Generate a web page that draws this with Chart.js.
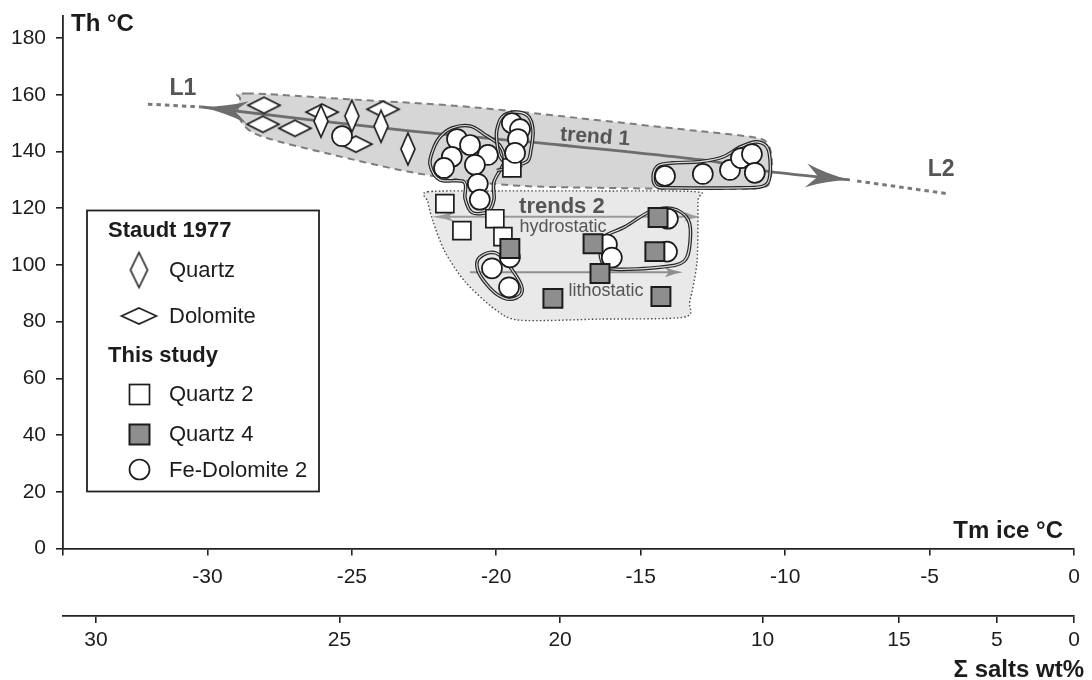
<!DOCTYPE html>
<html>
<head>
<meta charset="utf-8">
<title>Th vs Tm ice</title>
<script src="https://cdn.jsdelivr.net/npm/chart.js@4.4.1/dist/chart.umd.min.js"></script>
<style>
  html, body { margin: 0; padding: 0; background: #ffffff; }
  #wrap { width: 1092px; height: 680px; }
</style>
</head>
<body>
<div id="wrap"><canvas id="c" width="1092" height="680"></canvas></div>
<script>
// ---- Fluid inclusion data: [Tm ice (°C), Th (°C)] ----
const staudtQuartz = [[-26.07,150.7],[-25.0,152.5],[-23.99,148.9],[-23.06,140.9]];
const staudtDolomite = [[-28.04,156.3],[-28.08,149.6],[-26.97,148.2],[-26.03,153.9],[-23.92,154.9],[-24.86,142.6]];
const quartz2 = [[-19.46,134.2],[-21.78,121.6],[-21.19,112.1],[-20.05,116.3],[-19.77,110.0]];
const quartz4 = [[-19.53,105.8],[-16.65,107.5],[-14.4,116.7],[-14.51,104.7],[-16.41,97.0],[-18.04,88.2],[-14.3,88.9]];
const feDolomite2 = [
  [-25.34,145.4],[-21.36,144.4],[-20.91,142.3],[-21.54,138.1],[-20.29,138.8],[-21.81,134.2],[-20.74,135.3],
  [-20.64,128.6],[-20.57,123.0],[-19.46,150.0],[-19.18,147.9],[-19.25,144.4],[-19.35,139.5],
  [-20.15,98.8],[-19.56,92.1],[-19.53,102.7],[-16.17,107.2],[-16.0,102.6],[-14.06,116.3],[-14.09,104.7],
  [-14.16,131.4],[-12.85,132.1],[-11.91,133.5],[-11.53,137.7],[-11.15,139.1],[-11.05,132.5]
];

// ---- Axis ticks ----
const yTicks = [0,20,40,60,80,100,120,140,160,180];
const xTicks = [-35,-30,-25,-20,-15,-10,-5,0];
const xTickLabels = ['','-30','-25','-20','-15','-10','-5','0'];
// salinity scale: positions given as the equivalent Tm ice value
const saltTickPos = [-33.86,-25.43,-17.79,-10.78,-6.06,-2.67,0];
const saltTickLabels = ['30','25','20','10','15','5','0'];

// ---- Interpreted fields, trends and outlines (Tm ice, Th) ----
const trend1Band = [[-28.63,160.5],[-25.07,158.4],[-21.26,156.0],[-17.8,152.5],[-13.64,147.9],[-11.15,145.1],
  [-10.6,142.6],[-10.46,136.3],[-10.53,130.0],[-10.87,127.2],[-12.95,126.8],[-16.41,127.2],[-19.18,127.9],
  [-21.26,130.0],[-23.34,133.5],[-25.76,139.1],[-27.83,144.4],[-28.6,147.9],[-28.94,153.2],[-28.87,158.4]];
const trend2Field = [[-22.37,125.8],[-19.87,126.1],[-16.41,126.1],[-13.09,125.8],[-13.02,122.3],[-13.05,101.2],
  [-13.3,87.2],[-13.5,81.6],[-16.41,80.9],[-19.18,80.5],[-20.05,84.4],[-21.09,94.2],[-21.78,104.7],
  [-22.19,115.3],[-22.37,122.3]];
const trendLine = [[-30.19,155.7],[-23.33,147.6],[-17.79,142.3],[-12.95,137.1],[-10.52,132.9],[-7.76,130.0]];
const l1Extension = [[-32.06,156.7],[-30.19,155.7]];
const l2Extension = [[-7.51,129.6],[-4.36,125.1]];
const hydrostaticArrow = [[-22.23,117.0],[-12.95,117.0]];
const lithostaticArrow = [[-20.91,97.4],[-13.54,97.4]];
const outlineLeft = [[-22.19,140.6],[-21.95,145.1],[-21.53,148.3],[-20.91,149.0],[-20.43,146.2],[-19.87,142.0],
  [-19.73,136.4],[-20.08,129.3],[-20.08,123.0],[-20.29,118.8],[-20.84,118.5],[-21.08,123.4],[-21.12,129.3],
  [-21.95,130.0],[-22.29,135.3]];
const outlineUpper = [[-19.98,147.6],[-19.80,152.2],[-19.35,153.9],[-18.90,152.5],[-18.73,147.6],[-18.80,140.6],
  [-18.94,136.4],[-19.53,135.3],[-19.87,138.1],[-19.98,143.4]];
const outlineLink = [[-19.98,133.3],[-19.1,135.2]];
const outlineRight = [[-14.57,131.1],[-14.40,135.0],[-13.88,136.0],[-12.95,136.4],[-12.15,138.1],[-11.56,141.6],
  [-10.97,143.4],[-10.59,140.9],[-10.52,132.2],[-10.73,127.9],[-11.56,127.2],[-13.88,127.2],[-14.43,127.6]];
const outlinePair = [[-20.63,102.0],[-20.22,104.4],[-19.80,102.7],[-19.18,93.9],[-19.14,89.7],[-19.53,87.9],
  [-19.98,89.7],[-20.36,93.5],[-20.63,97.8]];
const outlineLasso = [[-16.41,105.5],[-16.31,109.7],[-15.54,113.5],[-14.68,118.8],[-13.92,119.9],[-13.36,116.0],
  [-13.29,108.3],[-13.50,101.3],[-14.33,99.2],[-15.89,98.5],[-16.31,100.6]];

// ---- Plot annotations: [text, Tm ice, Th] ----
const annotL1 = ['L1', -30.85, 162.3];
const annotL2 = ['L2', -4.60, 133.6];
const annotTrend1 = ['trend 1', -16.58, 145.1];
const annotTrends2 = ['trends 2', -17.73, 120.6];
const annotHydro = ['hydrostatic', -17.69, 113.5];
const annotLitho = ['lithostatic', -16.20, 90.7];

const FONT = '"Liberation Sans", Arial, Helvetica, sans-serif';
const INK = '#1c1c1c';

function diamondCanvas(w, h, lw) {
  const c = document.createElement('canvas');
  c.width = Math.ceil(w + lw * 2 + 2);
  c.height = Math.ceil(h + lw * 2 + 2);
  const g = c.getContext('2d');
  const cx = c.width / 2, cy = c.height / 2;
  g.beginPath();
  g.moveTo(cx, cy - h / 2);
  g.lineTo(cx + w / 2, cy);
  g.lineTo(cx, cy + h / 2);
  g.lineTo(cx - w / 2, cy);
  g.closePath();
  g.fillStyle = '#ffffff';
  g.fill();
  g.lineWidth = lw;
  g.lineJoin = 'miter';
  g.strokeStyle = INK;
  g.stroke();
  return c;
}
const quartzMark = diamondCanvas(14, 32, 1.7);
const dolomiteMark = diamondCanvas(32, 16, 1.7);
const quartzLegendMark = diamondCanvas(17, 35, 1.6);
const dolomiteLegendMark = diamondCanvas(35, 16, 1.6);

const toXY = arr => arr.map(p => ({ x: p[0], y: p[1] }));

function toPx(chart, pts) {
  const xs = chart.scales.x, ys = chart.scales.y;
  return pts.map(p => [xs.getPixelForValue(p[0]), ys.getPixelForValue(p[1])]);
}

function smoothPath(ctx, P, closed, t) {
  const n = P.length;
  const get = i => closed ? P[(i + n) % n] : P[Math.max(0, Math.min(n - 1, i))];
  ctx.moveTo(P[0][0], P[0][1]);
  const segs = closed ? n : n - 1;
  for (let i = 0; i < segs; i++) {
    const p0 = get(i - 1), p1 = get(i), p2 = get(i + 1), p3 = get(i + 2);
    ctx.bezierCurveTo(
      p1[0] + (p2[0] - p0[0]) * t / 6, p1[1] + (p2[1] - p0[1]) * t / 6,
      p2[0] - (p3[0] - p1[0]) * t / 6, p2[1] - (p3[1] - p1[1]) * t / 6,
      p2[0], p2[1]);
  }
  if (closed) ctx.closePath();
}

function arrowHead(ctx, tip, from, len, half, notch, color) {
  const dx = tip[0] - from[0], dy = tip[1] - from[1];
  const d = Math.hypot(dx, dy);
  const ux = dx / d, uy = dy / d, nx = -uy, ny = ux;
  const bx = tip[0] - ux * len, by = tip[1] - uy * len;
  const mx = tip[0] - ux * len * 0.55, my = tip[1] - uy * len * 0.55;
  ctx.beginPath();
  ctx.moveTo(tip[0], tip[1]);
  ctx.quadraticCurveTo(mx + nx * half * 0.3, my + ny * half * 0.3, bx + nx * half, by + ny * half);
  ctx.lineTo(tip[0] - ux * (len - notch), tip[1] - uy * (len - notch));
  ctx.lineTo(bx - nx * half, by - ny * half);
  ctx.quadraticCurveTo(mx - nx * half * 0.3, my - ny * half * 0.3, tip[0], tip[1]);
  ctx.closePath();
  ctx.fillStyle = color;
  ctx.fill();
}

function outline(ctx, P, closed) {
  ctx.beginPath();
  smoothPath(ctx, P, closed, 1);
  ctx.setLineDash([]);
  ctx.lineJoin = 'round';
  ctx.lineWidth = 3.6;
  ctx.strokeStyle = '#262626';
  ctx.stroke();
  ctx.lineWidth = 1.2;
  ctx.strokeStyle = '#d9d9d9';
  ctx.stroke();
}

const figurePlugin = {
  id: 'figurePlugin',
  beforeDatasetsDraw(chart) {
    const ctx = chart.ctx;
    ctx.save();
    // trend 1 envelope
    ctx.beginPath();
    smoothPath(ctx, toPx(chart, trend1Band), true, 1);
    ctx.fillStyle = '#d6d6d6';
    ctx.fill();
    ctx.setLineDash([7, 5]);
    ctx.lineWidth = 2;
    ctx.strokeStyle = '#7d7d7d';
    ctx.stroke();
    // trends 2 field
    ctx.beginPath();
    smoothPath(ctx, toPx(chart, trend2Field), true, 0.8);
    ctx.fillStyle = '#e9e9e9';
    ctx.fill();
    ctx.setLineDash([1.5, 2.2]);
    ctx.lineWidth = 1.4;
    ctx.strokeStyle = '#4a4a4a';
    ctx.stroke();

    // L1 - L2 trend arrow
    const tl = toPx(chart, trendLine);
    ctx.setLineDash([]);
    ctx.beginPath();
    smoothPath(ctx, tl, false, 1);
    ctx.lineWidth = 2.8;
    ctx.strokeStyle = '#6d6d6d';
    ctx.stroke();
    arrowHead(ctx, tl[0], tl[1], 46, 11, 13, '#6d6d6d');
    arrowHead(ctx, tl[tl.length - 1], tl[tl.length - 2], 44, 12, 12, '#6d6d6d');
    // dotted continuations
    ctx.setLineDash([4.5, 4]);
    ctx.lineWidth = 3;
    ctx.strokeStyle = '#7a7a7a';
    [l1Extension, l2Extension].forEach(seg => {
      const p = toPx(chart, seg);
      ctx.beginPath();
      ctx.moveTo(p[0][0], p[0][1]);
      ctx.lineTo(p[1][0], p[1][1]);
      ctx.stroke();
    });
    ctx.setLineDash([]);

    // hydrostatic / lithostatic arrows
    const h = toPx(chart, hydrostaticArrow);
    ctx.beginPath();
    ctx.moveTo(h[0][0] + 10, h[0][1]);
    ctx.lineTo(h[1][0] - 8, h[1][1]);
    ctx.lineWidth = 2.2;
    ctx.strokeStyle = '#9b9b9b';
    ctx.stroke();
    arrowHead(ctx, h[0], h[1], 22, 5, 5, '#9b9b9b');
    arrowHead(ctx, h[1], h[0], 16, 5, 4, '#9b9b9b');
    const l = toPx(chart, lithostaticArrow);
    ctx.beginPath();
    ctx.moveTo(l[0][0], l[0][1]);
    ctx.lineTo(l[1][0] - 8, l[1][1]);
    ctx.lineWidth = 2;
    ctx.strokeStyle = '#8f8f8f';
    ctx.stroke();
    arrowHead(ctx, l[1], l[0], 18, 5, 4, '#8f8f8f');

    // group outlines
    outline(ctx, toPx(chart, outlineRight), true);
    outline(ctx, toPx(chart, outlineLeft), true);
    outline(ctx, toPx(chart, outlineUpper), true);
    outline(ctx, toPx(chart, outlineLink), false);
    outline(ctx, toPx(chart, outlinePair), true);
    outline(ctx, toPx(chart, outlineLasso), true);
    ctx.restore();
  },
  afterDatasetsDraw(chart) {
    const ctx = chart.ctx;
    const xs = chart.scales.x, ys = chart.scales.y;
    ctx.save();
    ctx.textAlign = 'center';
    ctx.textBaseline = 'middle';
    const put = (a, font, color, rot) => {
      ctx.save();
      ctx.translate(xs.getPixelForValue(a[1]), ys.getPixelForValue(a[2]));
      if (rot) ctx.rotate(rot);
      ctx.font = font;
      ctx.fillStyle = color;
      ctx.fillText(a[0], 0, 0);
      ctx.restore();
    };
    put(annotL1, 'bold 23px ' + FONT, '#555555', 0);
    put(annotL2, 'bold 23px ' + FONT, '#555555', 0);
    put(annotTrend1, 'bold 21px ' + FONT, '#555555', 0.07);
    put(annotTrends2, 'bold 22px ' + FONT, '#555555', 0);
    put(annotHydro, '18px ' + FONT, '#555555', 0);
    put(annotLitho, '18px ' + FONT, '#555555', 0);
    ctx.restore();
  },
  afterDraw(chart) {
    const ctx = chart.ctx;
    ctx.save();
    // axis titles
    ctx.fillStyle = INK;
    ctx.font = 'bold 24px ' + FONT;
    ctx.textBaseline = 'alphabetic';
    ctx.textAlign = 'left';
    ctx.fillText('Th °C', 71, 31);
    ctx.textAlign = 'right';
    ctx.fillText('Tm ice °C', 1063, 538);
    ctx.fillText('Σ salts wt%', 1084, 677);

    // legend
    ctx.lineWidth = 1.8;
    ctx.strokeStyle = '#222222';
    ctx.strokeRect(87, 210.5, 232, 281);
    ctx.fillStyle = INK;
    ctx.textAlign = 'left';
    ctx.font = 'bold 22px ' + FONT;
    ctx.fillText('Staudt 1977', 108, 237);
    ctx.fillText('This study', 108, 362);
    ctx.font = '22px ' + FONT;
    ctx.fillText('Quartz', 169, 277);
    ctx.fillText('Dolomite', 169, 323);
    ctx.fillText('Quartz 2', 169, 401);
    ctx.fillText('Quartz 4', 169, 441);
    ctx.fillText('Fe-Dolomite 2', 169, 477);
    ctx.drawImage(quartzLegendMark, 139 - quartzLegendMark.width / 2, 270 - quartzLegendMark.height / 2);
    ctx.drawImage(dolomiteLegendMark, 139 - dolomiteLegendMark.width / 2, 316 - dolomiteLegendMark.height / 2);
    ctx.lineWidth = 1.7;
    ctx.strokeStyle = INK;
    ctx.fillStyle = '#ffffff';
    ctx.fillRect(129.5, 384.5, 20, 20);
    ctx.strokeRect(129.5, 384.5, 20, 20);
    ctx.fillStyle = '#8e8e8e';
    ctx.fillRect(129.5, 424.5, 20, 20);
    ctx.lineWidth = 2;
    ctx.strokeRect(129.5, 424.5, 20, 20);
    ctx.beginPath();
    ctx.arc(139.5, 469.5, 10, 0, Math.PI * 2);
    ctx.fillStyle = '#ffffff';
    ctx.fill();
    ctx.lineWidth = 1.7;
    ctx.stroke();
    ctx.restore();
  }
};

Chart.defaults.font.family = FONT;
Chart.defaults.color = INK;

const axisGrid = { display: true, drawOnChartArea: false, drawTicks: true, tickLength: 7, color: '#222222', lineWidth: 1.6 };
const axisBorder = { display: true, color: '#222222', width: 1.8 };

new Chart(document.getElementById('c'), {
  type: 'scatter',
  data: {
    datasets: [
      { label: 'Quartz 4', data: toXY(quartz4), order: 1, pointStyle: 'rect', pointRadius: 13.4,
        backgroundColor: '#8e8e8e', borderColor: INK, borderWidth: 2 },
      { label: 'Fe-Dolomite 2', data: toXY(feDolomite2), order: 2, pointStyle: 'circle', pointRadius: 10,
        backgroundColor: '#ffffff', borderColor: INK, borderWidth: 1.7 },
      { label: 'Quartz 2', data: toXY(quartz2), order: 3, pointStyle: 'rect', pointRadius: 12.7,
        backgroundColor: '#ffffff', borderColor: INK, borderWidth: 1.7 },
      { label: 'Quartz (Staudt 1977)', data: toXY(staudtQuartz), order: 4, pointStyle: quartzMark, pointRadius: 10 },
      { label: 'Dolomite (Staudt 1977)', data: toXY(staudtDolomite), order: 5, pointStyle: dolomiteMark, pointRadius: 10 }
    ]
  },
  options: {
    responsive: false,
    animation: false,
    devicePixelRatio: 1,
    layout: { padding: { top: 0, right: 18, left: 0, bottom: 0 } },
    plugins: { legend: { display: false }, tooltip: { enabled: false } },
    scales: {
      x: {
        type: 'linear', position: 'bottom', min: -35, max: 0,
        afterBuildTicks: s => { s.ticks = xTicks.map(v => ({ value: v })); },
        afterFit: s => { s.height = 67.5; },
        ticks: {
          autoSkip: false, maxRotation: 0, padding: 9, color: INK, font: { size: 21 },
          callback: v => { const i = xTicks.indexOf(v); return i >= 0 ? xTickLabels[i] : ''; }
        },
        grid: axisGrid, border: axisBorder
      },
      salt: {
        type: 'linear', position: 'bottom', min: -35, max: 0,
        afterBuildTicks: s => { s.ticks = saltTickPos.map(v => ({ value: v })); },
        afterFit: s => { s.height = 64; },
        ticks: {
          autoSkip: false, maxRotation: 0, padding: 5, color: INK, font: { size: 21 },
          callback: v => { const i = saltTickPos.indexOf(v); return i >= 0 ? saltTickLabels[i] : ''; }
        },
        grid: axisGrid, border: axisBorder
      },
      y: {
        type: 'linear', position: 'left', min: 0, max: 188,
        afterBuildTicks: s => { s.ticks = yTicks.map(v => ({ value: v })); },
        afterFit: s => { s.width = 63; s.paddingTop = 12; s.paddingBottom = 0; },
        ticks: { padding: 10, color: INK, font: { size: 21 } },
        grid: axisGrid, border: axisBorder
      }
    }
  },
  plugins: [figurePlugin]
});
</script>
</body>
</html>
